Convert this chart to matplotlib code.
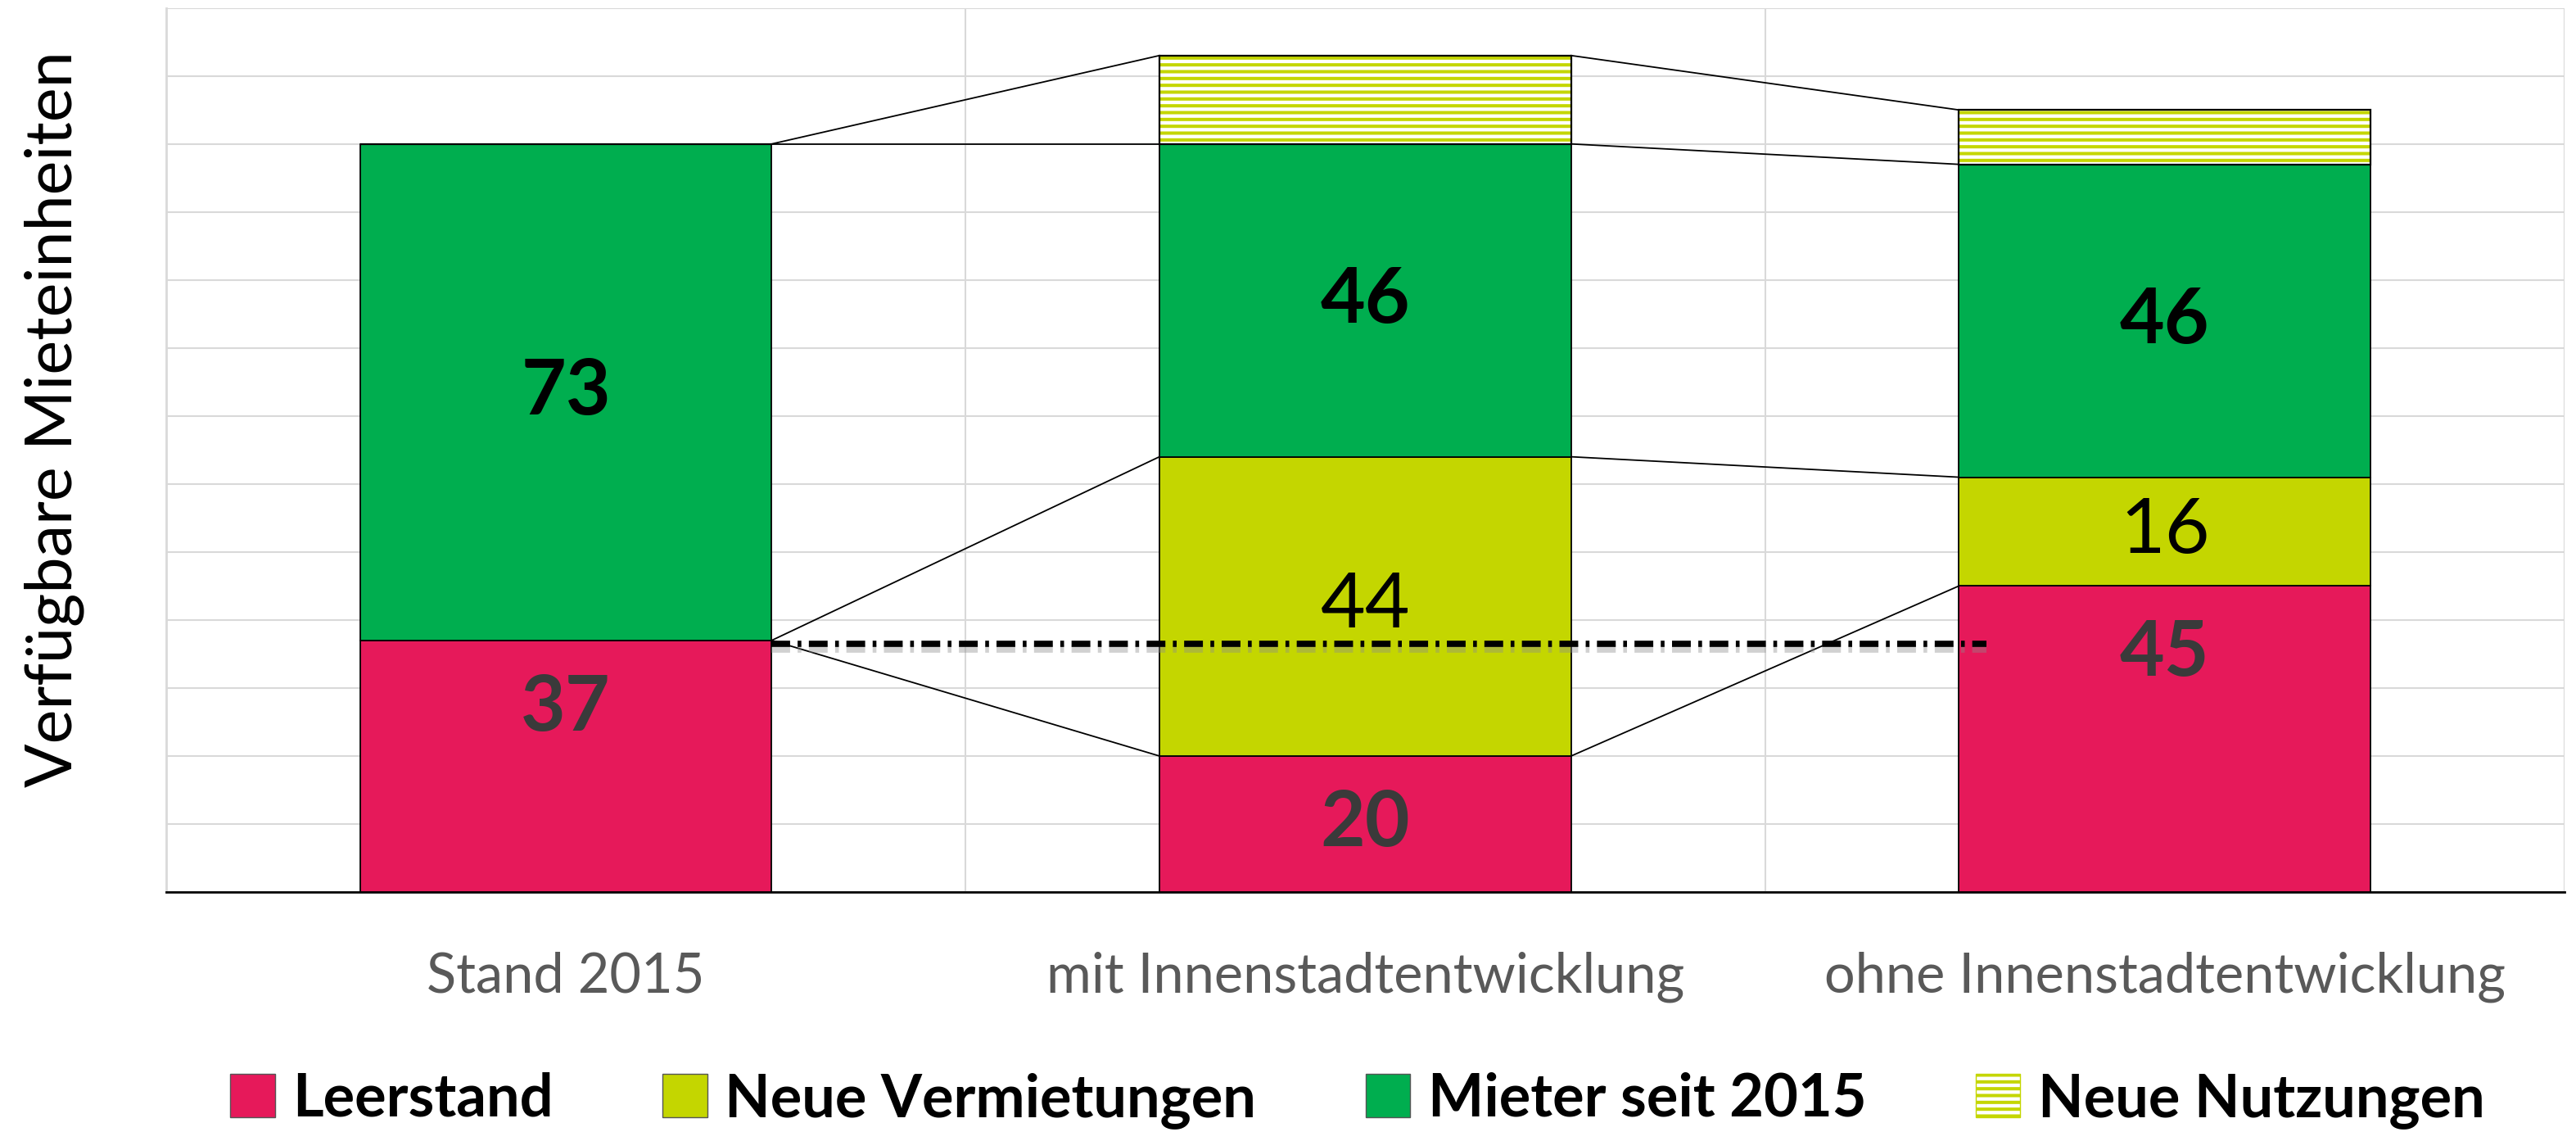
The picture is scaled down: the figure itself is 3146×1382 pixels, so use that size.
import matplotlib
matplotlib.use("Agg")
import matplotlib.pyplot as plt
from matplotlib.patches import Patch
import numpy as np

plt.rcParams['font.family'] = ['Lato', 'DejaVu Sans']

categories = ["Stand 2015", "mit Innenstadtentwicklung", "ohne Innenstadtentwicklung"]
leerstand = [37, 20, 45]
neue_vermietungen = [0, 44, 16]
mieter_seit_2015 = [73, 46, 46]
neue_nutzungen = [0, 13, 8]
referenz_leerstand = 36.5

c_leer = '#e6195a'
c_verm = '#c4d600'
c_mieter = '#00ae4f'

x = np.arange(len(categories))
width = 0.515

fig = plt.figure(figsize=(31.46, 13.82), dpi=100)
ax = fig.add_axes([0.0645, 0.212, 0.931, 0.781])

plt.rcParams['hatch.linewidth'] = 2.9

b1 = np.array(leerstand)
b2 = b1 + np.array(neue_vermietungen)
b3 = b2 + np.array(mieter_seit_2015)
b4 = b3 + np.array(neue_nutzungen)

ax.bar(x, leerstand, width, color=c_leer, edgecolor='black', linewidth=1.3, zorder=3)
ax.bar(x, neue_vermietungen, width, bottom=b1, color=c_verm, edgecolor='black', linewidth=1.3, zorder=3)
ax.bar(x, mieter_seit_2015, width, bottom=b2, color=c_mieter, edgecolor='black', linewidth=1.3, zorder=3)
ax.bar(x, neue_nutzungen, width, bottom=b3, color='white', edgecolor=c_verm, hatch='--', linewidth=0, zorder=3)
ax.bar(x, neue_nutzungen, width, bottom=b3, color='none', edgecolor='black', linewidth=1.6, zorder=4)

# connector lines between neighbouring bars
for lev in [b1, b2, b3, b4]:
    for i in range(len(x) - 1):
        ax.plot([x[i] + width / 2, x[i + 1] - width / 2], [lev[i], lev[i + 1]],
                color='black', linewidth=1.3, zorder=2)

# reference line for the 2015 vacancy level (shadow drawn as separate line)
ref_x = [x[0] + width / 2, x[2] - width / 2 + 0.035]
lw_main, lw_shadow = 5.5, 7.0
pattern = np.array([3.0, 1.2, 0.6, 1.2])
ax.plot(ref_x, [referenz_leerstand - 0.7] * 2, color='#8c8c8c', alpha=0.4,
        linewidth=lw_shadow, linestyle=(0, tuple(pattern * lw_main / lw_shadow)),
        dash_capstyle='butt', zorder=5)
ax.plot(ref_x, [referenz_leerstand] * 2, color='black', linewidth=lw_main,
        linestyle=(0, tuple(pattern)), dash_capstyle='butt', zorder=5)

# value labels
for i in range(len(x)):
    ax.text(x[i], leerstand[i] - 10, str(leerstand[i]), ha='center', va='center',
            fontsize=68, fontweight='bold', color='#3a3a3a', zorder=6)
    if neue_vermietungen[i]:
        ax.text(x[i], b1[i] + neue_vermietungen[i] / 2, str(neue_vermietungen[i]),
                ha='center', va='center', fontsize=68, color='black', zorder=6)
    ax.text(x[i], b2[i] + mieter_seit_2015[i] / 2, str(mieter_seit_2015[i]),
            ha='center', va='center', fontsize=68, fontweight='bold', color='black', zorder=6)

ax.set_xlim(-0.5, 2.5)
ax.set_ylim(0, 130)
ax.set_yticks(np.arange(0, 131, 10))
ax.set_yticklabels([])
ax.set_xticks(x)
ax.set_xticklabels(categories, fontsize=48, color='#595959')
ax.set_xticks([0.5, 1.5, 2.5], minor=True)
ax.tick_params(axis='both', which='both', length=0)
ax.tick_params(axis='x', pad=52)
ax.grid(axis='y', color='#d9d9d9', linewidth=1.5, zorder=0)
ax.grid(axis='x', which='minor', color='#d9d9d9', linewidth=1.5, zorder=0)
ax.set_axisbelow(True)
for s in ['top', 'right']:
    ax.spines[s].set_visible(False)
ax.spines['left'].set_color('#d9d9d9')
ax.spines['left'].set_linewidth(2)
ax.spines['bottom'].set_color('black')
ax.spines['bottom'].set_linewidth(2)

fig.text(0.021, 0.63, "Verfügbare Mieteinheiten", rotation=90, ha='center', va='center',
         fontsize=57, color='black')

handles = [
    Patch(facecolor=c_leer, edgecolor='#555555', label='Leerstand'),
    Patch(facecolor=c_verm, edgecolor='#555555', label='Neue Vermietungen'),
    Patch(facecolor=c_mieter, edgecolor='#555555', label='Mieter seit 2015'),
    Patch(facecolor='white', edgecolor=c_verm, hatch='--', label='Neue Nutzungen'),
]
leg = fig.legend(handles=handles, loc='center', bbox_to_anchor=(0.527, 0.028), ncol=4,
                 frameon=False, prop={'size': 52, 'weight': 'bold'},
                 handlelength=0.75, handleheight=0.75, handletextpad=0.3, columnspacing=1.85)

fig.savefig('out.png', dpi=100)
